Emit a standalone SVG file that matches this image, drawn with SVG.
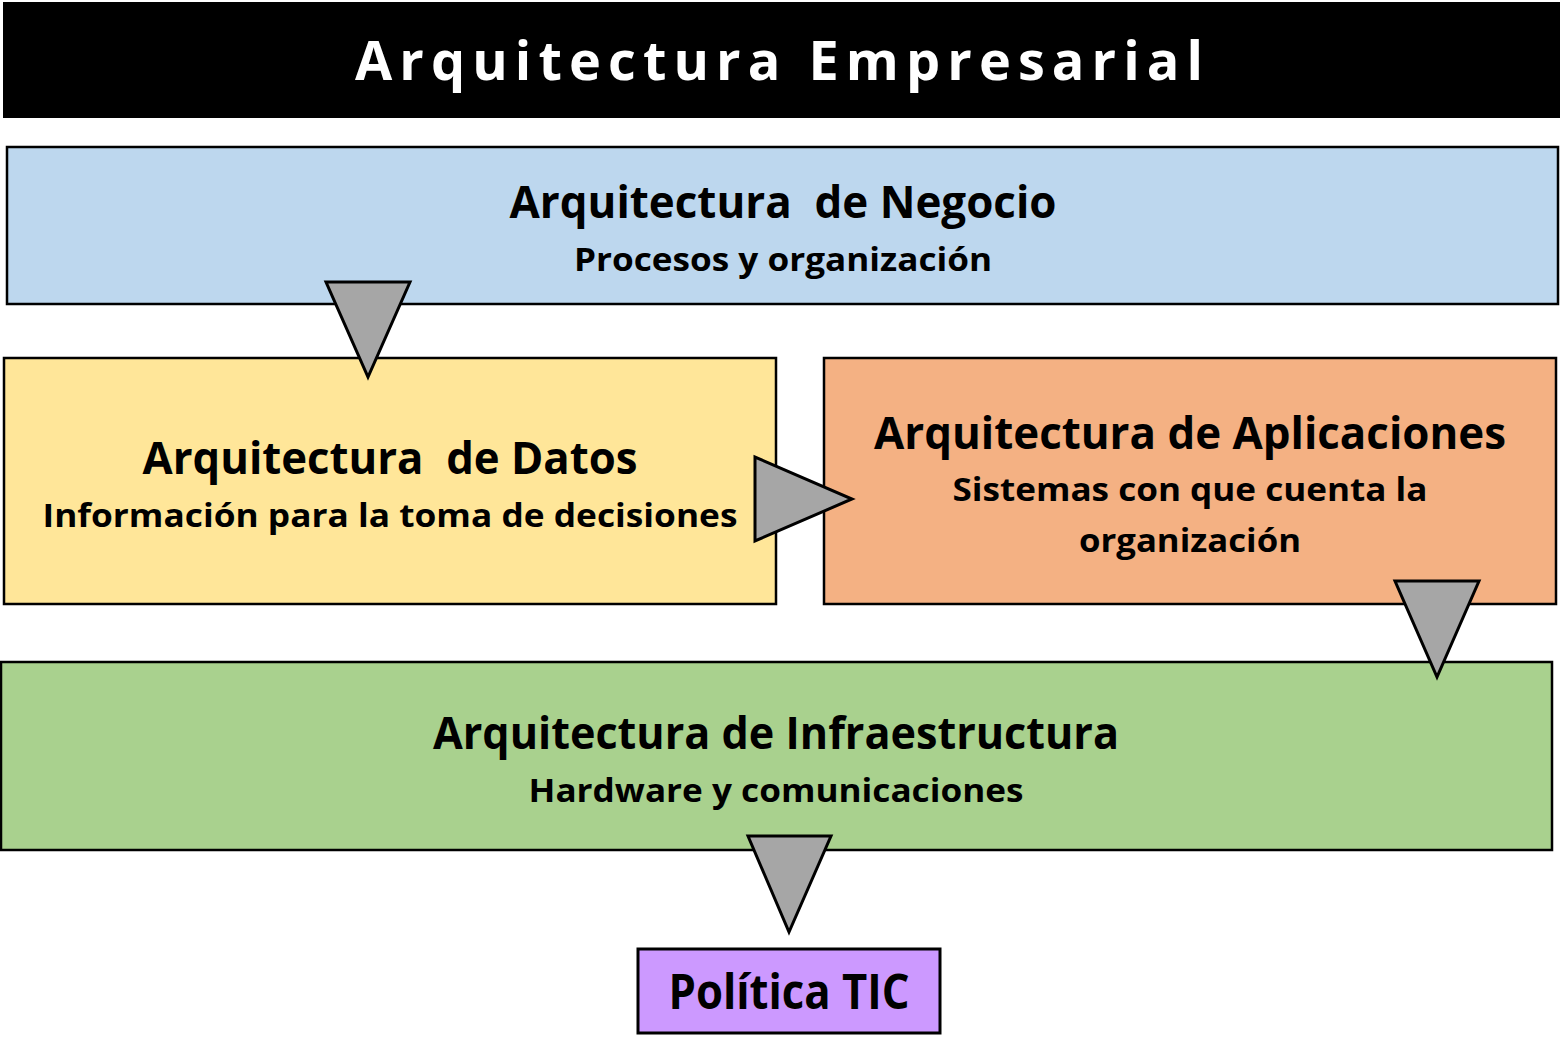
<svg xmlns="http://www.w3.org/2000/svg" width="1560" height="1038" viewBox="0 0 1560 1038">
<style>
.box{stroke:#000;stroke-width:2.5}
.tri{fill:#A6A6A6;stroke:#000;stroke-width:3;stroke-linejoin:miter}
text{font-family:"Open Sans","Noto Sans","Liberation Sans",sans-serif;font-weight:bold;fill:#000;text-anchor:middle;white-space:pre}
.h{font-size:44px}
.s{font-size:33px}
</style>
<rect width="1560" height="1038" fill="#fff"/>
<g id="title">
<rect x="3" y="2" width="1557" height="116" fill="#000"/>
<text x="779" y="80" style="font-size:54px;fill:#fff" textLength="848" lengthAdjust="spacing">Arquitectura Empresarial</text>
</g>
<g id="negocio">
<rect class="box" x="7" y="147" width="1551" height="157" fill="#BDD7EE"/>
<text class="h" x="783" y="218" textLength="547" lengthAdjust="spacingAndGlyphs" xml:space="preserve">Arquitectura  de Negocio</text>
<text class="s" x="783" y="271" textLength="418" lengthAdjust="spacingAndGlyphs">Procesos y organización</text>
</g>
<g id="datos">
<rect class="box" x="4" y="358" width="772" height="246" fill="#FFE699"/>
<text class="h" x="390" y="474" textLength="495" lengthAdjust="spacingAndGlyphs" xml:space="preserve">Arquitectura  de Datos</text>
<text class="s" x="390" y="527" textLength="695" lengthAdjust="spacingAndGlyphs">Información para la toma de decisiones</text>
</g>
<g id="aplicaciones">
<rect class="box" x="824" y="358" width="732" height="246" fill="#F4B183"/>
<text class="h" x="1190" y="449" textLength="632" lengthAdjust="spacingAndGlyphs">Arquitectura de Aplicaciones</text>
<text class="s" x="1190" y="501" textLength="475" lengthAdjust="spacingAndGlyphs">Sistemas con que cuenta la</text>
<text class="s" x="1190" y="552" textLength="222" lengthAdjust="spacingAndGlyphs">organización</text>
</g>
<g id="infraestructura">
<rect class="box" x="1" y="662" width="1551" height="188" fill="#A9D18E"/>
<text class="h" x="776" y="749" textLength="686" lengthAdjust="spacingAndGlyphs">Arquitectura de Infraestructura</text>
<text class="s" x="776" y="802" textLength="495" lengthAdjust="spacingAndGlyphs">Hardware y comunicaciones</text>
</g>
<g id="politica">
<rect x="638" y="949" width="302" height="84" fill="#CC99FF" stroke="#000" stroke-width="3"/>
<text x="789" y="1009" style="font-size:48px" textLength="241" lengthAdjust="spacingAndGlyphs">Política TIC</text>
</g>
<g id="connectors">
<polygon class="tri" points="326,282 410,282 368,377"/>
<polygon class="tri" points="755,457 755,541 852,499"/>
<polygon class="tri" points="1395,581 1479,581 1437,677"/>
<polygon class="tri" points="748,836 831,836 789,932"/>
</g>
</svg>
